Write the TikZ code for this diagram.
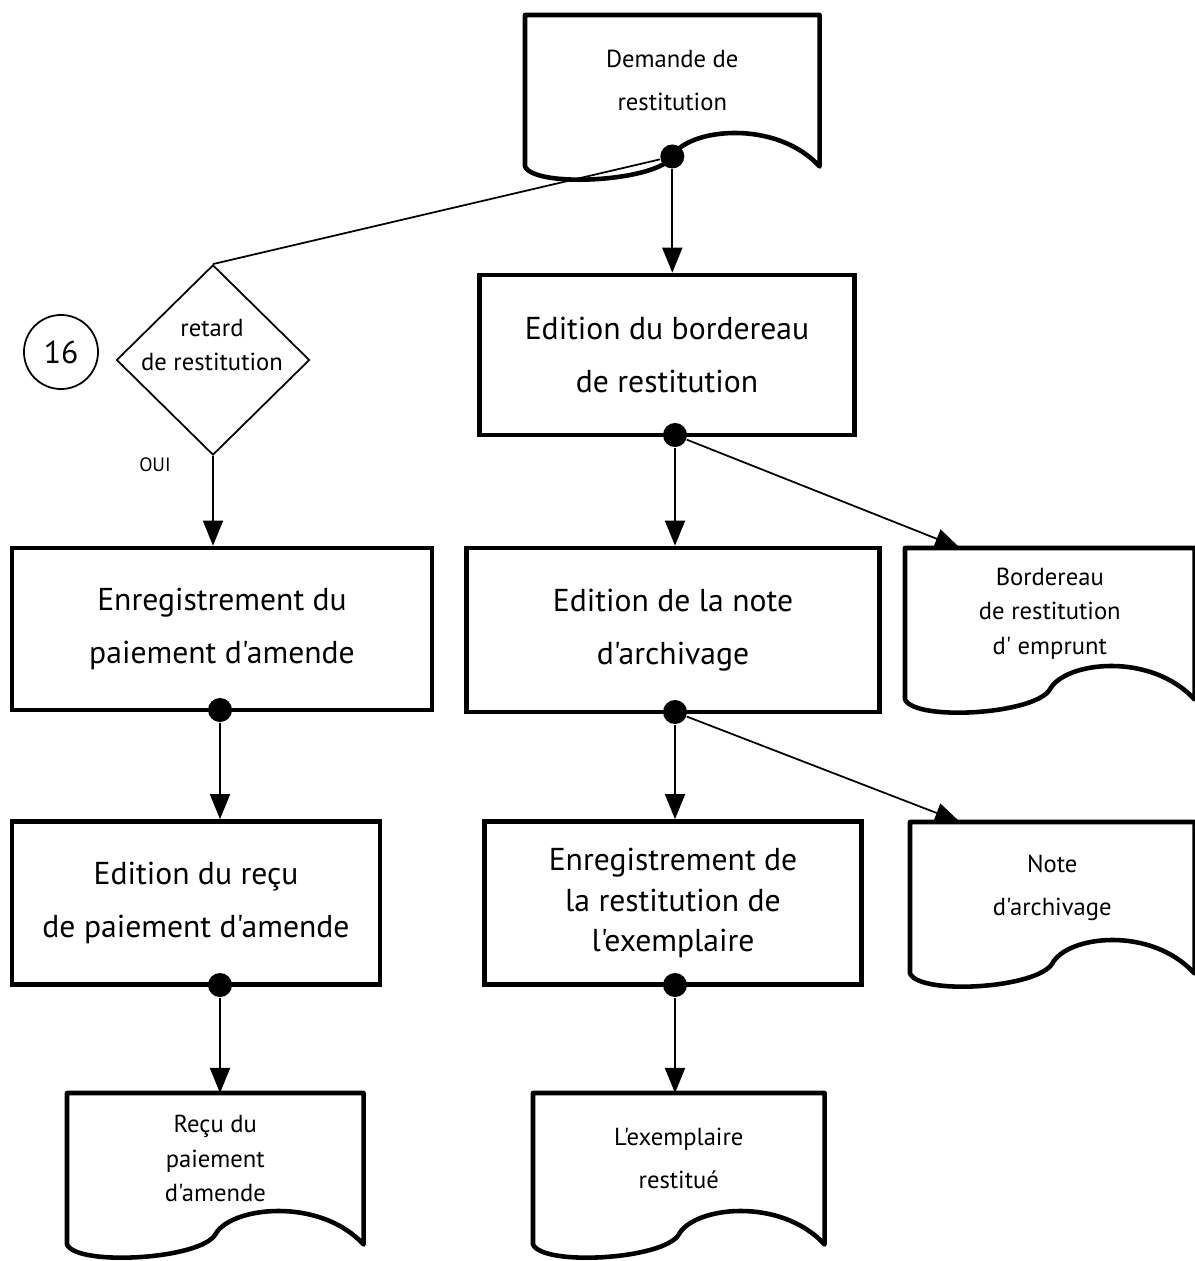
\documentclass[tikz,border=0pt]{standalone}
\usepackage{fontspec}
\setmainfont{PT Sans}[Ligatures=TeXOff]
\usetikzlibrary{arrows.meta, positioning, shapes.geometric, calc}

% outline of a document symbol drawn round a docbox node
\newcommand{\docoutline}[1]{%
  \draw[docline] (#1.north west) -- (#1.north east) -- ($(#1.south east)+(0,20)$)
    .. controls ($(#1.south east)+(-44,-28)$) and ($(#1.south)+(15,-18)$) .. ($(#1.south)+(0,10)$)
    .. controls ($(#1.south)+(-15,35)$) and ($(#1.south west)+(10,42)$) .. ($(#1.south west)+(0,20)$) -- cycle;}

\begin{document}
\begin{tikzpicture}[x=0.01cm, y=-0.01cm,
    procbox/.style={draw, line width=1.3pt, align=center, font=\fontsize{9}{15}\selectfont},
    docbox/.style={minimum height=1.3cm, inner sep=0pt, align=center, anchor=north west, font=\fontsize{7}{12.2}\selectfont},
    docline/.style={line width=1.3pt, line join=round},
    decision/.style={diamond, draw, line width=0.5pt, minimum width=1.93cm, minimum height=1.9cm, inner sep=0pt},
    dtext/.style={align=center, font=\fontsize{7}{9.8}\selectfont},
    refnum/.style={circle, draw, line width=0.5pt, minimum size=0.74cm, inner sep=0pt, font=\fontsize{9}{9}\selectfont},
    dot/.style={circle, fill=black, minimum size=0.24cm, inner sep=0pt},
    flow/.style={line width=0.5pt, -{Triangle[length=0.25cm, width=0.2cm]}},
    link/.style={line width=0.5pt}]
  \useasboundingbox (0,0) rectangle (1195,1261);
  % request document
  \node[docbox, minimum width=2.93cm] (dem) at (525,15) {Demande de\\restitution};
  \docoutline{dem}
  \node[dot] (dem-dot) at ($(dem.south)+(0,10)$) {};
  % decision
  \node[refnum] (num) at (61,352) {16};
  \node[decision] (retard) at (213,360) {};
  \node[dtext] (retard-txt) at (212,345) {retard\\de restitution};
  \node[font=\fontsize{5.5}{6}\selectfont] (oui) at (155,465) {OUI};
  % process boxes
  \node[procbox, minimum width=3.75cm, minimum height=1.6cm] (bord-ed) at (667,355) {Edition du bordereau\\de restitution};
  \node[procbox, minimum width=4.2cm, minimum height=1.62cm] (paie-enr) at (222,629) {Enregistrement du\\paiement d'amende};
  \node[procbox, minimum width=4.13cm, minimum height=1.64cm] (note-ed) at (673,630) {Edition de la note\\d'archivage};
  \node[procbox, minimum width=3.68cm, minimum height=1.63cm] (recu-ed) at (196,903) {Edition du reçu\\de paiement d'amende};
  \node[procbox, minimum width=3.77cm, minimum height=1.63cm, font=\fontsize{9}{11.4}\selectfont] (rest-enr) at (673,903) {Enregistrement de\\la restitution de\\l'exemplaire};
  % output documents
  \node[docbox, minimum width=2.88cm, font=\fontsize{7}{9.8}\selectfont] (bord) at (905,548) {Bordereau\\de restitution\\d' emprunt};
  \docoutline{bord}
  \node[docbox, minimum width=2.83cm] (note) at (910,822) {Note\\d'archivage};
  \docoutline{note}
  \node[docbox, minimum width=2.95cm, font=\fontsize{7}{9.8}\selectfont] (recu) at (67,1093) {Reçu du\\paiement\\d'amende};
  \docoutline{recu}
  \node[docbox, minimum width=2.9cm] (expl) at (533,1093) {L'exemplaire\\restitué};
  \docoutline{expl}
  % junction dots
  \node[dot] (dot1) at (675,435) {};
  \node[dot] (dot2) at (220,710) {};
  \node[dot] (dot3) at (675,712) {};
  \node[dot] (dot4) at (220,985) {};
  \node[dot] (dot5) at (675,985) {};
  % connectors
  \draw[link] (dem-dot) -- (retard.north);
  \draw[flow] (dem-dot) -- (dem-dot |- bord-ed.north);
  \draw[flow] (retard.south) -- (retard.south |- paie-enr.north);
  \draw[flow] (dot1) -- (dot1 |- note-ed.north);
  \draw[flow] (dot1) -- ($(bord.north west)+(55,0)$);
  \draw[flow] (dot2) -- (dot2 |- recu-ed.north);
  \draw[flow] (dot3) -- (dot3 |- rest-enr.north);
  \draw[flow] (dot3) -- ($(note.north west)+(50,0)$);
  \draw[flow] (dot4) -- (dot4 |- recu.north);
  \draw[flow] (dot5) -- (dot5 |- expl.north);
\end{tikzpicture}
\end{document}
